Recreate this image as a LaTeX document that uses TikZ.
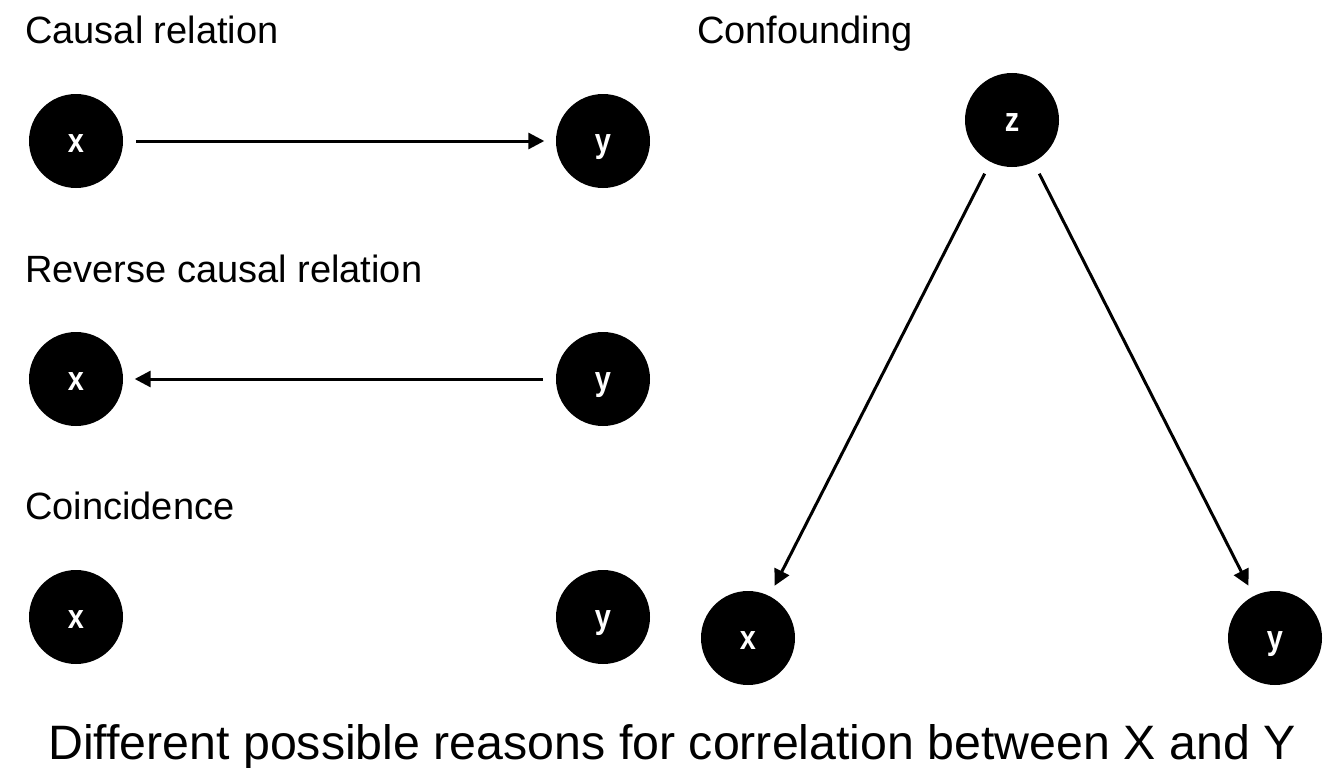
\documentclass[tikz,border=0pt]{standalone}
\usepackage{fontspec}
\setmainfont{Liberation Sans}
\newfontfamily\lblfont[FakeStretch=0.85,BoldFont={Liberation Sans Bold}]{Liberation Sans}
\usetikzlibrary{arrows.meta}
\begin{document}
\begin{tikzpicture}[x=1pt,y=-1pt,
  varnode/.style={circle,fill=black,minimum size=94pt,inner sep=0pt,text=white,
    text height=23.6pt,text depth=0pt},
  ttl/.style={anchor=base west,inner sep=0pt,font=\fontsize{38}{44}\selectfont},
  captext/.style={anchor=base,inner sep=0pt,font=\fontsize{48.3}{56}\selectfont},
  conn/.style={line width=3pt,-{Triangle[length=16pt,width=16pt]},shorten >=11.5pt,shorten <=13pt}]
\newcommand\lbl[1]{{\lblfont\bfseries\fontsize{34}{38}\selectfont #1}}
\useasboundingbox[fill=white] (0,0) rectangle (1344,768);
% titles
\node[ttl] (t1) at (25,44) {Causal relation};
\node[ttl] (t2) at (25,282) {Reverse causal relation};
\node[ttl] (t3) at (25,519) {Coincidence};
\node[ttl] (t4) at (697,44) {Confounding};
% causal
\node[varnode] (x1) at (76,141) {\lbl{x}};
\node[varnode] (y1) at (603,141) {\lbl{y}};
\draw[conn] (x1) -- (y1);
% reverse
\node[varnode] (x2) at (76,379) {\lbl{x}};
\node[varnode] (y2) at (603,379) {\lbl{y}};
\draw[conn] (y2) -- (x2);
% coincidence
\node[varnode] (x3) at (76,617) {\lbl{x}};
\node[varnode] (y3) at (603,617) {\lbl{y}};
% confounding
\node[varnode] (z) at (1012,120) {\lbl{z}};
\node[varnode] (x4) at (748,638) {\lbl{x}};
\node[varnode] (y4) at (1275,638) {\lbl{y}};
\draw[conn] (z) -- (x4);
\draw[conn] (z) -- (y4);
% caption
\node[captext] (c) at (672,759) {Different possible reasons for correlation between X and Y};
\end{tikzpicture}
\end{document}
